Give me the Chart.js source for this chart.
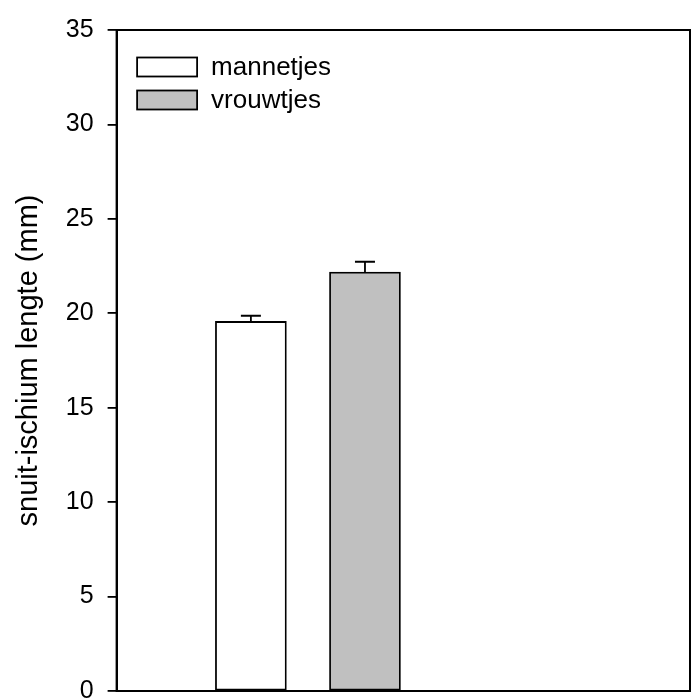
<!DOCTYPE html>
<html lang="nl">
<head>
    <meta charset="UTF-8">
    <title>Snuit-ischium lengte</title>
    <script src="https://cdn.jsdelivr.net/npm/chart.js"></script>
    <style>
        html, body { margin: 0; padding: 0; background: #fff; overflow: hidden; }
        #wrap { position: relative; width: 691px; height: 720px; }
    </style>
</head>
<body>
    <div id="wrap"><canvas id="lengthChart"></canvas></div>

    <script>
        // groups, bar positions on the x axis, means and standard errors
        const groups = ['mannetjes', 'vrouwtjes'];
        const positions = [1, 2];
        const means = [19.57, 22.18];
        const errors = [0.30, 0.55];
        const fills = ['#ffffff', '#c0c0c0'];
        const yTicks = [0, 5, 10, 15, 20, 25, 30, 35];

        const FONT = "'Liberation Sans', Arial, sans-serif";

        // closed frame around the plot area
        const framePlugin = {
            id: 'frame',
            beforeDatasetsDraw(chart) {
                const { ctx, chartArea: a } = chart;
                ctx.save();
                ctx.strokeStyle = '#000';
                ctx.lineWidth = 2;
                ctx.strokeRect(a.left, a.top, a.right - a.left, a.bottom - a.top);
                ctx.restore();
            }
        };

        // upward error bars with a short cap
        const errorBarPlugin = {
            id: 'errorBars',
            afterDatasetsDraw(chart) {
                const { ctx } = chart;
                const yScale = chart.scales.y;
                ctx.save();
                ctx.strokeStyle = '#000';
                ctx.lineWidth = 1.8;
                chart.data.datasets.forEach((ds, i) => {
                    const bar = chart.getDatasetMeta(i).data[0];
                    const top = yScale.getPixelForValue(means[i]);
                    const tip = yScale.getPixelForValue(means[i] + errors[i]);
                    ctx.beginPath();
                    ctx.moveTo(bar.x, top);
                    ctx.lineTo(bar.x, tip);
                    ctx.moveTo(bar.x - 10, tip);
                    ctx.lineTo(bar.x + 10, tip);
                    ctx.stroke();
                });
                ctx.restore();
            }
        };

        // legend drawn inside the upper left corner of the plot
        const innerLegendPlugin = {
            id: 'innerLegend',
            afterDraw(chart) {
                const { ctx, chartArea: a } = chart;
                ctx.save();
                ctx.font = '26px ' + FONT;
                ctx.textBaseline = 'middle';
                chart.data.datasets.forEach((ds, i) => {
                    const x = a.left + 20.5;
                    const y = a.top + 27.5 + i * 33;
                    ctx.fillStyle = ds.backgroundColor;
                    ctx.fillRect(x, y, 60, 19);
                    ctx.strokeStyle = '#000';
                    ctx.lineWidth = 1.8;
                    ctx.strokeRect(x, y, 60, 19);
                    ctx.fillStyle = '#000';
                    ctx.fillText(ds.label, x + 74, y + 10);
                });
                ctx.restore();
            }
        };

        const datasets = groups.map((g, i) => ({
            label: g,
            data: [{ x: positions[i], y: means[i] }],
            backgroundColor: fills[i],
            borderColor: '#000',
            borderWidth: 1.8,
            borderSkipped: false,
            barPercentage: 1,
            categoryPercentage: 1,
            maxBarThickness: 71,
            grouped: false
        }));

        new Chart(document.getElementById('lengthChart'), {
            type: 'bar',
            data: { datasets: datasets },
            options: {
                responsive: true,
                maintainAspectRatio: false,
                animation: false,
                events: [],
                layout: { padding: { top: 30, right: 1, left: 0, bottom: 0 } },
                plugins: {
                    legend: { display: false },
                    tooltip: { enabled: false }
                },
                scales: {
                    x: {
                        type: 'linear',
                        min: -0.177,
                        max: 4.849,
                        offset: false,
                        display: false
                    },
                    y: {
                        min: 0,
                        max: 35,
                        afterBuildTicks(scale) {
                            scale.ticks = yTicks.map(v => ({ value: v }));
                        },
                        ticks: {
                            color: '#000',
                            padding: 14,
                            font: { family: FONT, size: 25 }
                        },
                        grid: {
                            drawOnChartArea: false,
                            drawTicks: true,
                            tickLength: 9,
                            color: '#000',
                            lineWidth: 1.8
                        },
                        border: { display: true, color: '#000', width: 2 },
                        title: {
                            display: true,
                            text: 'snuit-ischium lengte (mm)',
                            color: '#000',
                            font: { family: FONT, size: 29 },
                            padding: { top: 12, bottom: 5 }
                        }
                    }
                }
            },
            plugins: [framePlugin, errorBarPlugin, innerLegendPlugin]
        });
    </script>
</body>
</html>
